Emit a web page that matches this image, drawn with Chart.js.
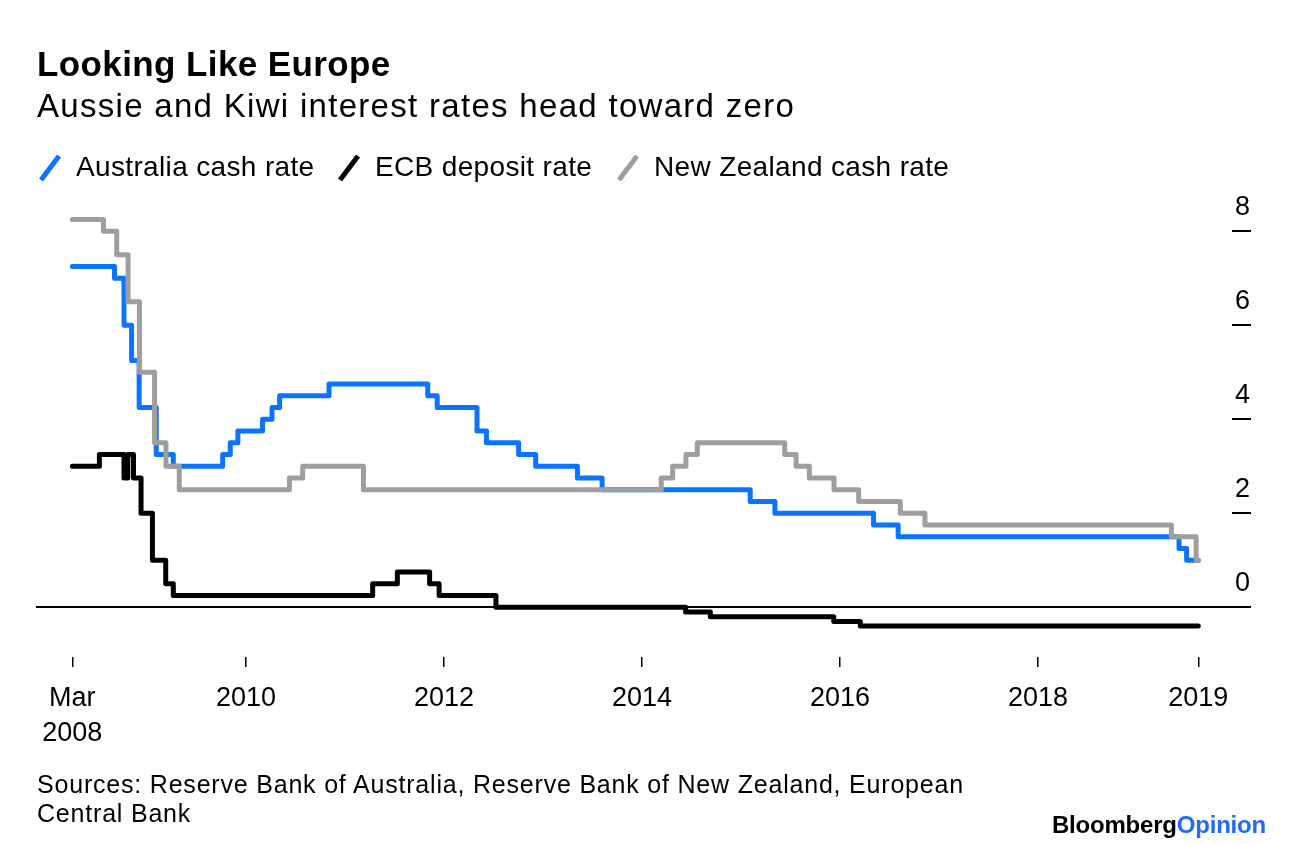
<!DOCTYPE html>
<html>
<head>
<meta charset="utf-8">
<script src="https://cdn.jsdelivr.net/npm/chart.js@4.4.0/dist/chart.umd.min.js"></script>
<style>
  html, body { margin: 0; padding: 0; background: #fff; }
  body { width: 1296px; height: 844px; position: relative; overflow: hidden;
         font-family: "Liberation Sans", Arial, sans-serif; color: #000; }
  #chartBox { position: absolute; left: 0; top: 0; width: 1296px; height: 844px; }
  .txt { position: absolute; line-height: 1; white-space: nowrap; }
  #title { left: 37px; top: 46px; font-size: 35px; font-weight: bold; letter-spacing: 0.4px; }
  #subtitle { left: 37px; top: 89px; font-size: 33px; letter-spacing: 1.3px; }
  .leg { position: absolute; top: 153px; font-size: 28px; line-height: 1; white-space: nowrap; letter-spacing: 0.35px; }
  .icon { position: absolute; top: 155px; width: 26px; height: 26px; }
  #sources { left: 37px; top: 770px; font-size: 25px; line-height: 29px; white-space: normal; letter-spacing: 0.8px; }
  #logo { right: 30px; top: 813px; font-size: 24px; font-weight: bold; letter-spacing: -0.2px; }
  #logo span { color: #1f6bff; }
</style>
</head>
<body>
<div id="chartBox"><canvas id="chart" width="1296" height="844"></canvas></div>

<div class="txt" id="title">Looking Like Europe</div>
<div class="txt" id="subtitle">Aussie and Kiwi interest rates head toward zero</div>

<svg class="icon" style="left:37px" viewBox="0 0 26 26"><line x1="4" y1="25" x2="22" y2="1" stroke="#0a74ff" stroke-width="5"/></svg>
<div class="leg" style="left:76px">Australia cash rate</div>
<svg class="icon" style="left:336px" viewBox="0 0 26 26"><line x1="4" y1="25" x2="22" y2="1" stroke="#000" stroke-width="5"/></svg>
<div class="leg" style="left:375px">ECB deposit rate</div>
<svg class="icon" style="left:615px" viewBox="0 0 26 26"><line x1="4" y1="25" x2="22" y2="1" stroke="#9e9e9e" stroke-width="5"/></svg>
<div class="leg" style="left:654px">New Zealand cash rate</div>

<div class="txt" id="sources">Sources: Reserve Bank of Australia, Reserve Bank of New Zealand, European<br>Central Bank</div>
<div class="txt" id="logo">Bloomberg<span>Opinion</span></div>

<script>
// policy rate changes (date the new rate took effect, new rate in %)
const ausDates = ['2008-03-31', '2008-09-03', '2008-10-08', '2008-11-05', '2008-12-03', '2009-02-04',
  '2009-04-08', '2009-10-07', '2009-11-04', '2009-12-02', '2010-03-03', '2010-04-07', '2010-05-05',
  '2010-11-03', '2011-11-02', '2011-12-07', '2012-05-02', '2012-06-06', '2012-10-03', '2012-12-05',
  '2013-05-08', '2013-08-07', '2015-02-04', '2015-05-06', '2016-05-04', '2016-08-03', '2019-06-05',
  '2019-07-03', '2019-08-15'];
const ausRates = [7.25, 7.0, 6.0, 5.25, 4.25, 3.25, 3.0, 3.25, 3.5, 3.75, 4.0, 4.25, 4.5, 4.75, 4.5,
  4.25, 3.75, 3.5, 3.25, 3.0, 2.75, 2.5, 2.25, 2.0, 1.75, 1.5, 1.25, 1.0, 1.0];

const ecbDates = ['2008-03-31', '2008-07-09', '2008-10-08', '2008-10-22', '2008-11-12', '2008-12-10',
  '2009-01-21', '2009-03-11', '2009-04-08', '2011-04-13', '2011-07-13', '2011-11-09', '2011-12-14',
  '2012-07-11', '2014-06-11', '2014-09-10', '2015-12-09', '2016-03-16', '2019-08-15'];
const ecbRates = [3.0, 3.25, 2.75, 3.25, 2.75, 2.0, 1.0, 0.5, 0.25, 0.5, 0.75, 0.5, 0.25, 0.0, -0.1,
  -0.2, -0.3, -0.4, -0.4];

const nzDates = ['2008-03-31', '2008-07-24', '2008-09-11', '2008-10-23', '2008-12-04', '2009-01-29',
  '2009-03-12', '2009-04-30', '2010-06-10', '2010-07-29', '2011-03-10', '2014-03-13', '2014-04-24',
  '2014-06-12', '2014-07-24', '2015-06-11', '2015-07-23', '2015-09-10', '2015-12-10', '2016-03-10',
  '2016-08-11', '2016-11-10', '2019-05-08', '2019-08-07', '2019-08-15'];
const nzRates = [8.25, 8.0, 7.5, 6.5, 5.0, 3.5, 3.0, 2.5, 2.75, 3.0, 2.5, 2.75, 3.0, 3.25, 3.5, 3.25,
  3.0, 2.75, 2.5, 2.25, 2.0, 1.75, 1.5, 1.0, 1.0];

const xTickDates = ['2008-03-31', '2010-01-01', '2012-01-01', '2014-01-01', '2016-01-01', '2018-01-01', '2019-08-15'];
const xTickLabels = [['Mar', '2008'], '2010', '2012', '2014', '2016', '2018', '2019'];
const yTicks = [0, 2, 4, 6, 8];

// date string -> decimal year
function toYear(s) {
  const [y, m, d] = s.split('-').map(Number);
  const start = Date.UTC(y, 0, 1), end = Date.UTC(y + 1, 0, 1);
  return y + (Date.UTC(y, m - 1, d) - start) / (end - start);
}

function series(dates, rates) {
  return dates.map((d, i) => ({ x: toYear(d), y: rates[i] }));
}

const FONT = '"Liberation Sans", Arial, sans-serif';
Chart.defaults.font.family = FONT;
Chart.defaults.color = '#000';

new Chart(document.getElementById('chart'), {
  type: 'line',
  data: {
    datasets: [
      { label: 'Australia cash rate', data: series(ausDates, ausRates), borderColor: '#0a74ff', order: 3 },
      { label: 'ECB deposit rate', data: series(ecbDates, ecbRates), borderColor: '#000', order: 2 },
      { label: 'New Zealand cash rate', data: series(nzDates, nzRates), borderColor: '#9e9e9e', order: 1 }
    ]
  },
  options: {
    responsive: false,
    animation: false,
    layout: { padding: { left: 36, right: 4, top: 207.8, bottom: 97 } },
    plugins: { legend: { display: false }, tooltip: { enabled: false } },
    elements: {
      point: { radius: 0 },
      line: { borderWidth: 5, stepped: 'before', borderCapStyle: 'round', borderJoinStyle: 'round', fill: false }
    },
    scales: {
      x: {
        type: 'linear',
        min: 2007.8788,
        max: 2019.9596,
        border: { display: false },
        grid: { drawOnChartArea: false, drawTicks: true, tickLength: 10, color: '#000', lineWidth: 1.5 },
        afterBuildTicks: axis => { axis.ticks = xTickDates.map(d => ({ value: toYear(d) })); },
        afterFit: axis => { axis.height = 90; },
        ticks: {
          autoSkip: false, maxRotation: 0, padding: 14,
          font: { size: 27, lineHeight: 1.3 },
          callback: (v, i) => xTickLabels[i]
        }
      },
      y: {
        position: 'right',
        min: -1.057,
        max: 8.5,
        border: { display: false },
        grid: {
          drawTicks: true, tickLength: 19, lineWidth: 2, tickColor: '#000',
          color: c => (c.tick && c.tick.value === 0) ? '#000' : 'rgba(0,0,0,0)'
        },
        afterBuildTicks: axis => { axis.ticks = yTicks.map(v => ({ value: v })); },
        afterFit: axis => { axis.width = 60; },
        ticks: {
          padding: -16, crossAlign: 'center', labelOffset: -24,
          font: { size: 27 },
          callback: v => v
        }
      }
    }
  }
});
</script>
</body>
</html>
